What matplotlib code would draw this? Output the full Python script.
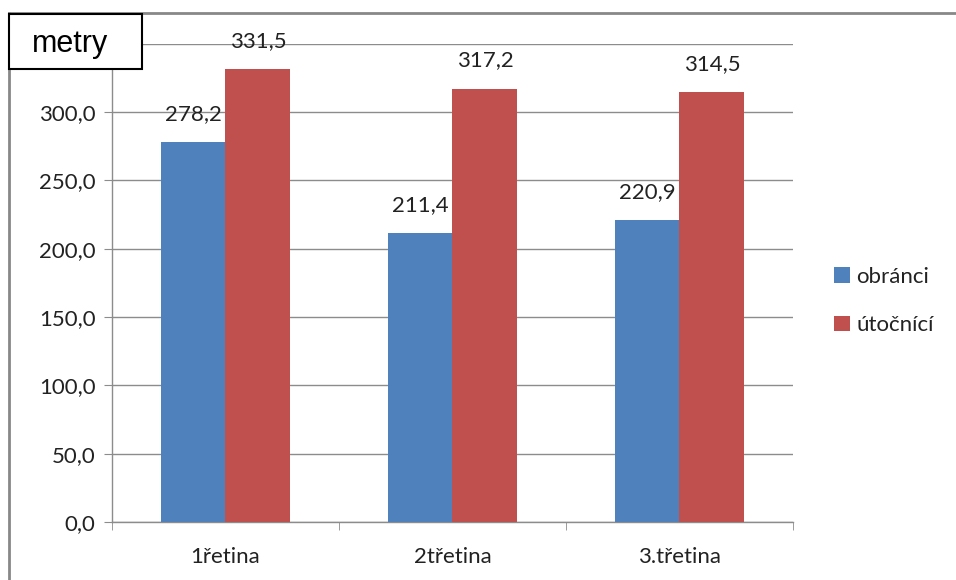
import numpy as np
import matplotlib.pyplot as plt
from matplotlib.patches import Rectangle, Patch
from matplotlib.lines import Line2D
from matplotlib.ticker import FuncFormatter

categories = ['1řetina', '2třetina', '3.třetina']
obranci = [278.2, 211.4, 220.9]
utocnici = [331.5, 317.2, 314.5]
series_names = ['obránci', 'útočnící']
colors = ['#4f81bd', '#c0504d']

plt.rcParams['font.family'] = ['Lato', 'DejaVu Sans']
grid_c = '#8c8c8c'
fs = 16


def fmt(v, p=None):
    # the 350 label sits under the "metry" box in the original
    if v >= 350:
        return ''
    return '{:.1f}'.format(v).replace('.', ',')


fig = plt.figure(figsize=(9.56, 5.8), dpi=100)
ax = fig.add_axes([112 / 956, 1 - 522 / 580, (793 - 112) / 956, (522 - 43.8) / 580])

x = np.arange(len(categories))
w = 0.286
b1 = ax.bar(x - w / 2, obranci, w, color=colors[0], zorder=3)
b2 = ax.bar(x + w / 2, utocnici, w, color=colors[1], zorder=3)

for bars in (b1, b2):
    for r in bars:
        v = r.get_height()
        ax.annotate(fmt(v), (r.get_x() + r.get_width() / 2, v),
                    xytext=(0, 13), textcoords='offset points',
                    ha='center', va='bottom', fontsize=fs, color='#222222')

ax.set_xlim(-0.5, 2.5)
ax.set_ylim(0, 350)
ax.set_yticks(np.arange(0, 351, 50))
ax.yaxis.set_major_formatter(FuncFormatter(fmt))
ax.set_xticks(x)
ax.set_xticklabels(categories)
ax.set_xticks([-0.5, 0.5, 1.5, 2.5], minor=True)
ax.tick_params(axis='x', which='major', length=0, pad=18, labelsize=fs, labelcolor='#222222')
ax.tick_params(axis='x', which='minor', length=6, color=grid_c, direction='out')
ax.tick_params(axis='y', length=6, color=grid_c, direction='out', pad=6,
               labelsize=fs, labelcolor='#222222')

ax.grid(axis='y', color=grid_c, linewidth=1, zorder=0)
ax.set_axisbelow(True)
for s in ('top', 'right'):
    ax.spines[s].set_visible(False)
for s in ('left', 'bottom'):
    ax.spines[s].set_color(grid_c)
    ax.spines[s].set_linewidth(1)

# outer chart border
fig.add_artist(Line2D([9 / 956, 1], [1 - 13 / 580] * 2, color='#888888', linewidth=2))
fig.add_artist(Line2D([9 / 956] * 2, [0, 1 - 13 / 580], color='#888888', linewidth=2))

# "metry" box
fig.add_artist(Rectangle((9 / 956, 1 - 69 / 580), 133 / 956, 55 / 580,
                         facecolor='white', edgecolor='black', linewidth=1.5, zorder=10))
fig.text(70 / 956, 1 - 44 / 580, 'metry', ha='center', va='center', fontsize=22,
         family=['Liberation Sans', 'DejaVu Sans'], zorder=11)

handles = [Patch(facecolor=c) for c in colors]
fig.legend(handles, series_names, loc='center left', bbox_to_anchor=(814 / 956, 1 - 301 / 580),
           frameon=False, fontsize=fs, handlelength=0.7, handleheight=0.7,
           handletextpad=0.3, labelspacing=1.3, labelcolor='#222222')

fig.savefig('out.png', dpi=100)
